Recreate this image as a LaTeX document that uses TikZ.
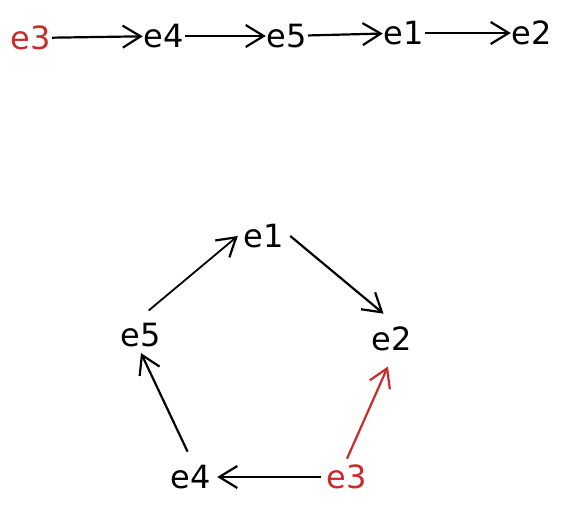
\documentclass[tikz,border=0pt]{standalone}
\usepackage{fontspec}
\setmainfont{DejaVu Sans}
\usetikzlibrary{arrows.meta}
\definecolor{sketchred}{HTML}{C92A2A}
\tikzset{
  lbl/.style={inner sep=1pt, font=\fontsize{32}{32}\selectfont},
  cyc/.style={lbl, inner sep=6pt},
  arr/.style={line width=2.2pt, -{Straight Barb[length=18pt,width=22pt,line width=2.2pt]}}
}
\begin{document}
\begin{tikzpicture}[x=1pt,y=-1pt]
  \useasboundingbox (0,0) rectangle (563,508);
  % chain
  \node[lbl, text=sketchred] (c3) at (31,38) {e3};
  \node[lbl] (c4) at (164,36) {e4};
  \node[lbl] (c5) at (287,36) {e5};
  \node[lbl] (c1) at (404,33) {e1};
  \node[lbl] (c2) at (532,33) {e2};
  \draw[arr] (c3) -- (c4);
  \draw[arr] (c4) -- (c5);
  \draw[arr] (c5) -- (c1);
  \draw[arr] (c1) -- (c2);
  % cycle
  \node[cyc] (p1) at (264,236) {e1};
  \node[cyc] (p2) at (392,339) {e2};
  \node[cyc] (p5) at (141,335) {e5};
  \node[cyc] (p4) at (191,477) {e4};
  \node[cyc, text=sketchred] (p3) at (347,477) {e3};
  \draw[arr, line width=1.8pt, shorten <=10pt] (p5.north) -- (p1.west);
  \draw[arr, shorten >=11pt] (p1.east) -- (p2.north);
  \draw[arr, shorten <=8pt] (p4.north) -- (p5.south);
  \draw[arr] (p3.west) -- (p4.east);
  \draw[arr, sketchred, shorten >=10pt] (p3.north) -- (p2.south);
\end{tikzpicture}
\end{document}
